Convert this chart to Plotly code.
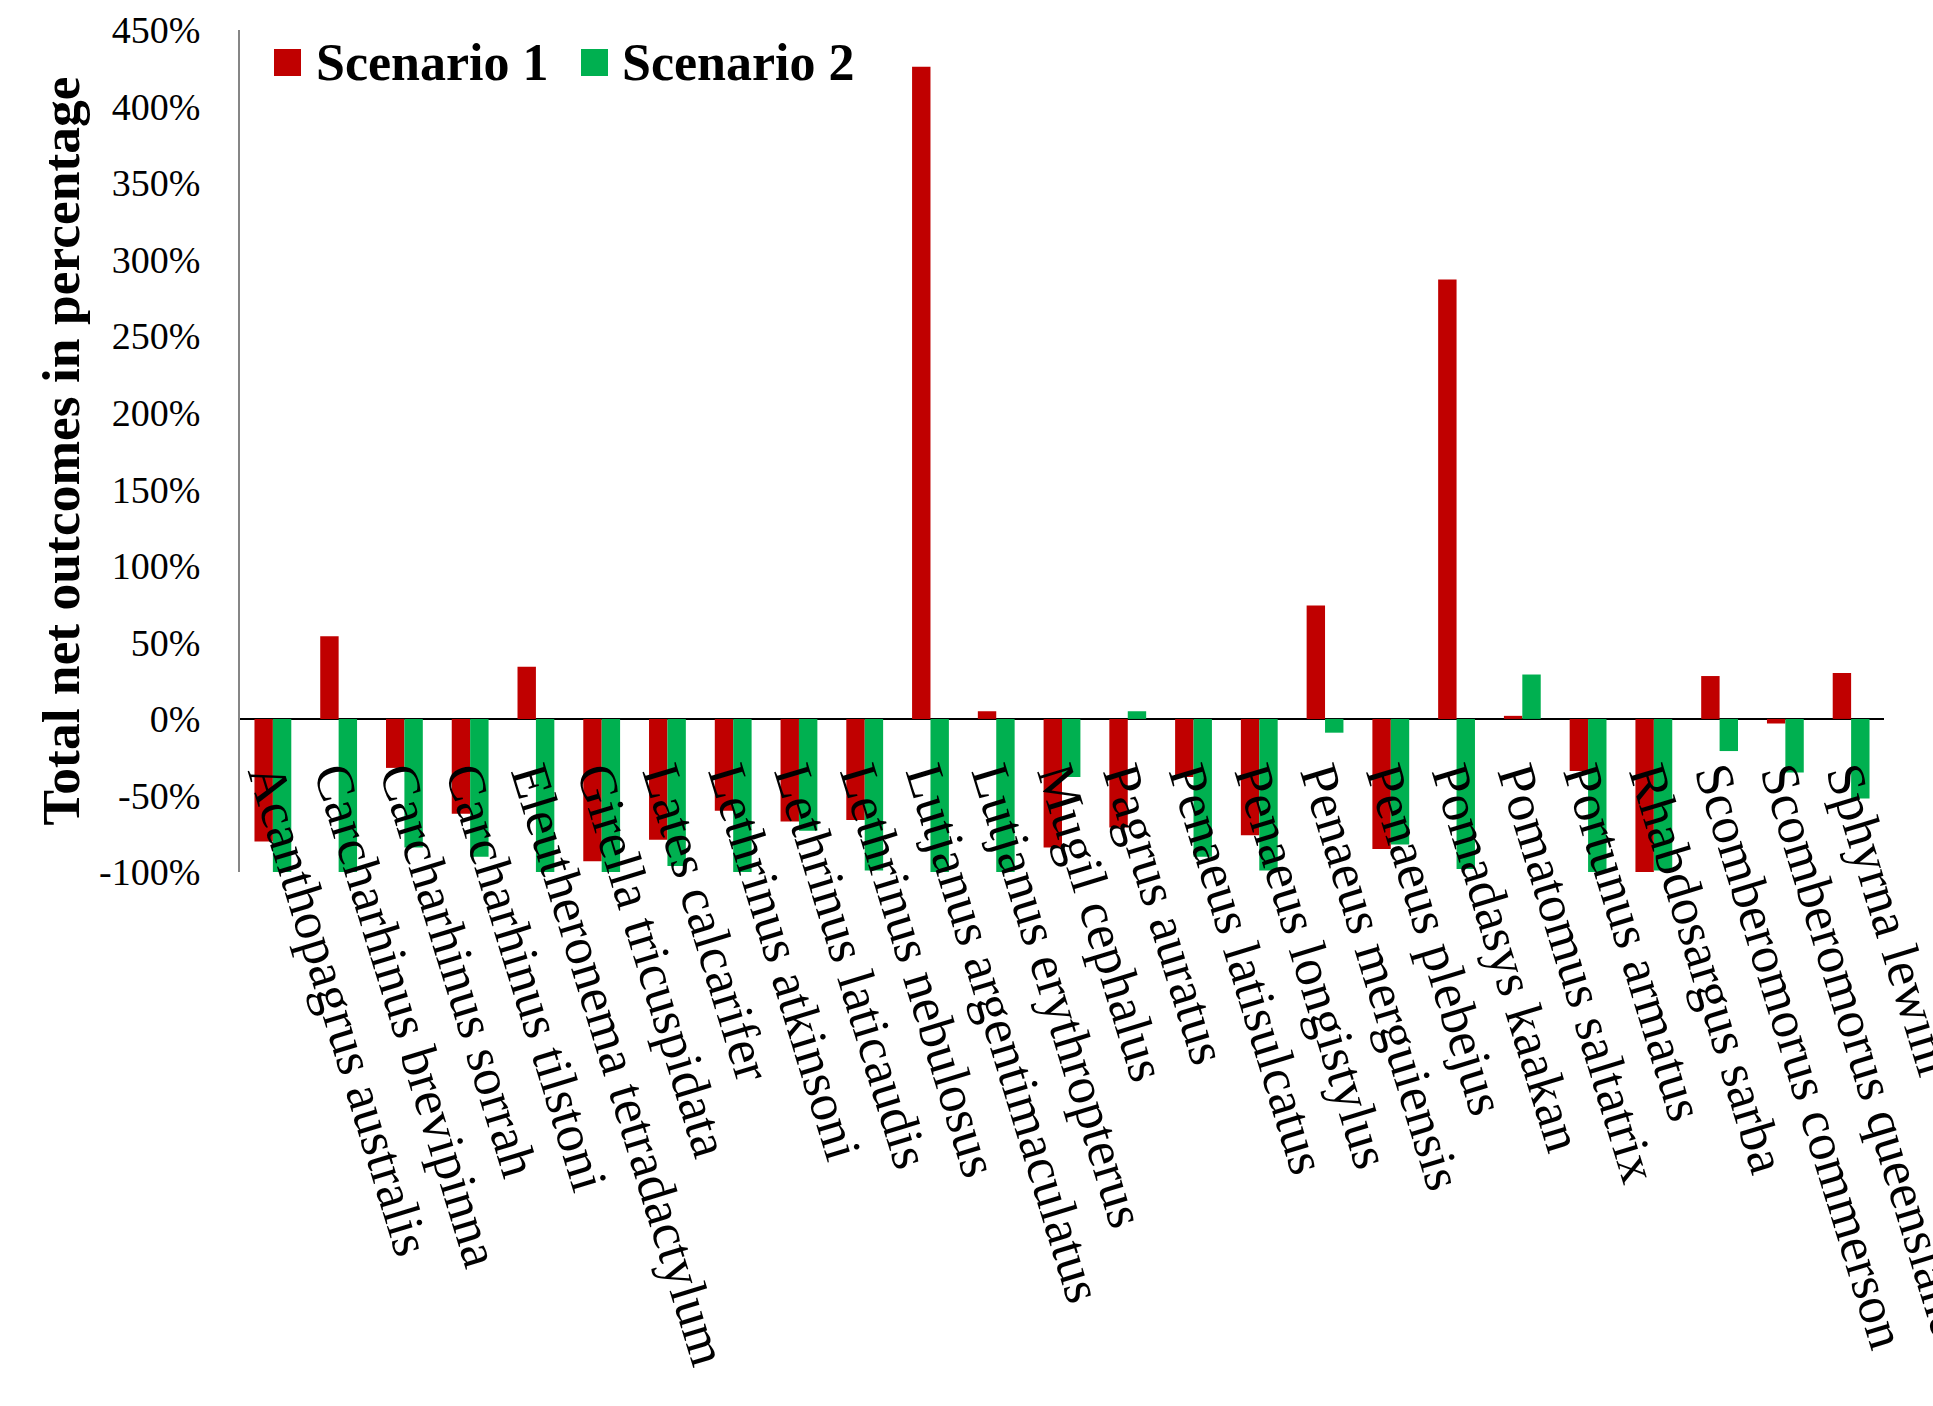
import plotly.graph_objects as go

species = [
    "Acanthopagrus australis", "Carcharhinus brevipinna", "Carcharhinus sorrah",
    "Carcharhinus tilstoni", "Eleutheronema tetradactylum", "Girella tricuspidata",
    "Lates calcarifer", "Lethrinus atkinsoni", "Lethrinus laticaudis",
    "Lethrinus nebulosus", "Lutjanus argentimaculatus", "Lutjanus erythropterus",
    "Mugil cephalus", "Pagrus auratus", "Penaeus latisulcatus",
    "Penaeus longistylus", "Penaeus merguiensis", "Penaeus plebejus",
    "Pomadasys kaakan", "Pomatomus saltatrix", "Portunus armatus",
    "Rhabdosargus sarba", "Scomberomorus commerson", "Scomberomorus queenslandicus",
    "Sphyrna lewini",
]

# Total net outcomes (%) per species
scenario_1 = [-80, 54, -32, -62, 34, -93, -79, -60, -67, -66, 426, 5, -84, -71,
              -38, -76, 74, -85, 287, 2, -34, -100, 28, -3, 30]
scenario_2 = [-100, -100, -84, -90, -100, -100, -96, -100, -73, -99, -100, -100,
              -38, 5, -90, -99, -9, -82, -98, 29, -100, -99, -21, -35, -52]

series_names = ["Scenario 1", "Scenario 2"]
series_colors = ["#C00000", "#00B050"]

y_ticks = list(range(-100, 451, 50))
y_tick_text = [f"{v}%" for v in y_ticks]
y_min, y_max = -100, 450

W, H = 1933, 1406
ml, mr, mt, mb = 240, 49, 30, 534
serif = "Liberation Serif, Times New Roman, serif"

fig = go.Figure()
for name, vals, col in zip(series_names, [scenario_1, scenario_2], series_colors):
    fig.add_trace(go.Bar(x=species, y=vals, name=name, marker_color=col,
                         marker_line_width=0, showlegend=False))

fig.update_layout(
    width=W, height=H,
    margin=dict(l=ml, r=mr, t=mt, b=mb, autoexpand=False),
    paper_bgcolor="white", plot_bgcolor="white",
    barmode="group", bargap=0.44, bargroupgap=0,
    font=dict(family=serif, color="black"),
    showlegend=False,
)

zero_pos = (0 - y_min) / (y_max - y_min)
fig.update_xaxes(
    type="category", anchor="free", position=zero_pos,
    showline=False, showgrid=False, zeroline=False,
    tickangle=73, tickfont=dict(size=53, family=serif),
    ticks="outside", ticklen=6, tickcolor="rgba(0,0,0,0)",
    automargin=False,
)
fig.update_yaxes(
    range=[y_min, y_max], tickvals=y_ticks, ticktext=y_tick_text,
    tickfont=dict(size=38, family=serif),
    showgrid=False, showline=True, linecolor="#868686", linewidth=2,
    zeroline=True, zerolinecolor="#000000", zerolinewidth=2,
    ticks="", ticklabelstandoff=30,
    title=dict(text="<b>Total net outcomes in percentage</b>",
               font=dict(size=53.5, family=serif), standoff=2),
    automargin=False,
)

# Legend drawn as coloured squares with bold labels along the top
pw = W - ml - mr
ph = H - mt - mb
legend_items = [(274, 314), (581, 620)]
for (sx, tx), name, col in zip(legend_items, series_names, series_colors):
    fig.add_shape(type="rect", xref="paper", yref="paper",
                  x0=(sx - ml) / pw, x1=(sx + 27 - ml) / pw,
                  y0=1 - (76 - mt) / ph, y1=1 - (49 - mt) / ph,
                  fillcolor=col, line_width=0)
    fig.add_annotation(xref="paper", yref="paper", x=(tx - ml) / pw,
                       y=1 - (62 - mt) / ph, text=f"<b>{name}</b>",
                       showarrow=False, xanchor="left", yanchor="middle",
                       font=dict(size=52, family=serif, color="black"))

fig.write_html("out.html")
